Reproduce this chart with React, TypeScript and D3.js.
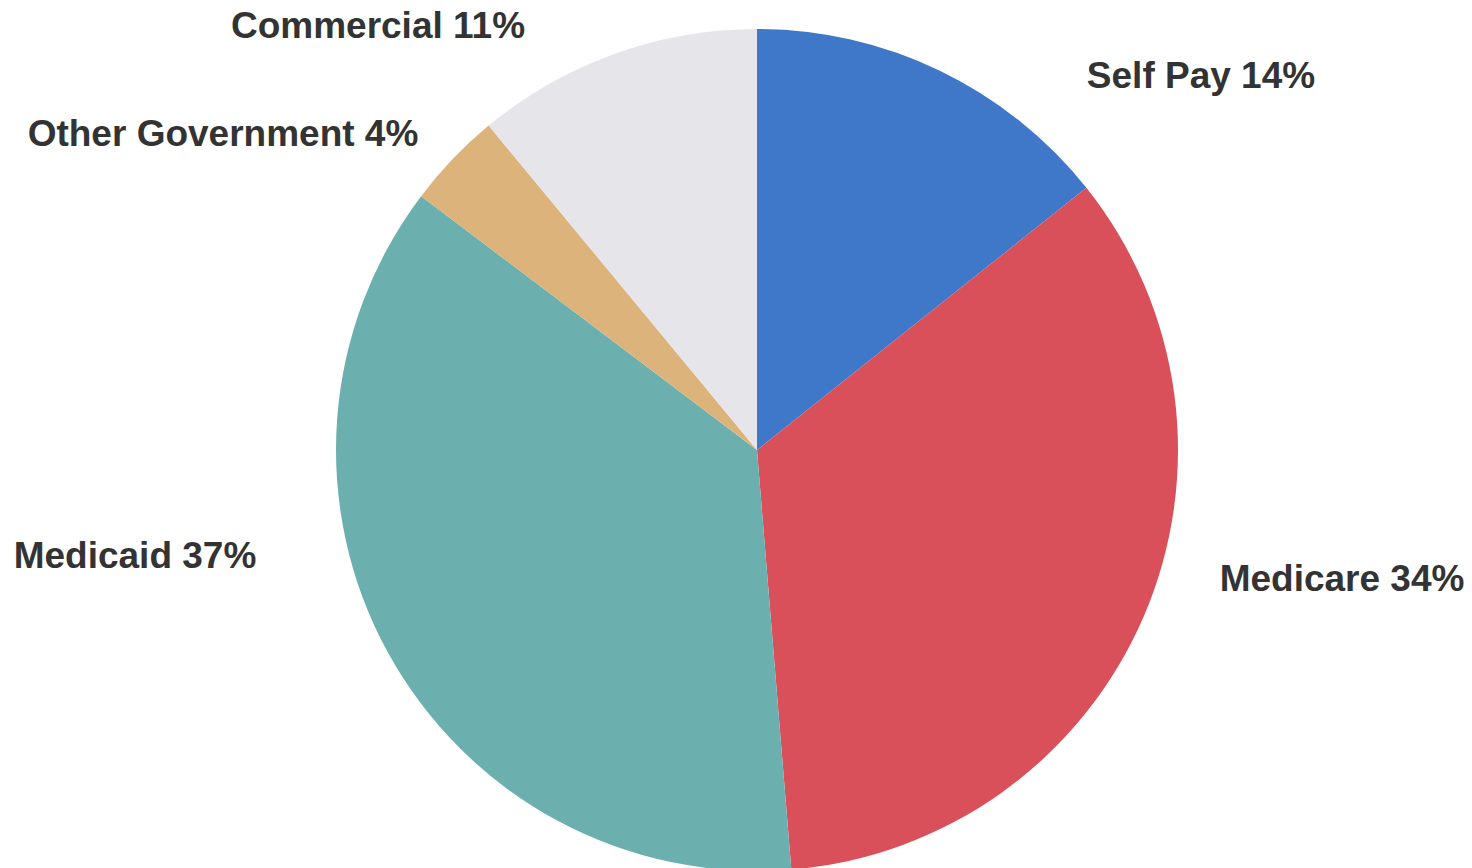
import { useMemo } from 'react';
import { pie, arc, PieArcDatum } from 'd3';

const categories = ['Self Pay', 'Medicare', 'Medicaid', 'Other Government', 'Commercial'];
// slice shares (angles), labels show the rounded percent
const shares = [14.3, 34.4, 36.6, 3.7, 11.0];
const percentLabels = ['14%', '34%', '37%', '4%', '11%'];
const colors = ['#3f78c8', '#d9505a', '#6bb0ae', '#ddb37c', '#e6e6ea'];

const WIDTH = 1472;
const HEIGHT = 868;
const CX = 757;
const CY = 450;
const RADIUS = 421;

// where each label sits (text centre x, baseline y)
const labelSpots: [number, number][] = [
  [1201, 88],
  [1342, 591],
  [135, 568],
  [223, 146],
  [378, 38],
];

type Slice = { name: string; value: number; label: string; color: string };

const App = () => {
  const slices: Slice[] = categories.map((name, i) => ({
    name,
    value: shares[i],
    label: percentLabels[i],
    color: colors[i],
  }));

  const arcs = useMemo(
    () =>
      pie<Slice>()
        .sort(null)
        .value((d) => d.value)
        .startAngle(0)
        .endAngle(2 * Math.PI)(slices),
    []
  );

  const arcGen = arc<PieArcDatum<Slice>>().innerRadius(0).outerRadius(RADIUS);

  return (
    <svg
      width={WIDTH}
      height={HEIGHT}
      style={{ position: 'absolute', left: 0, top: 0, background: '#fff' }}
    >
      <g transform={`translate(${CX},${CY})`}>
        {arcs.map((a) => (
          <path key={a.data.name} d={arcGen(a) || ''} fill={a.data.color} />
        ))}
      </g>
      {arcs.map((a, i) => (
        <text
          key={'l' + a.data.name}
          x={labelSpots[i][0]}
          y={labelSpots[i][1]}
          textAnchor="middle"
          fontFamily="'Liberation Sans', Arial, sans-serif"
          fontWeight="bold"
          fontSize={37}
          fill="#333"
        >
          {`${a.data.name} ${a.data.label}`}
        </text>
      ))}
    </svg>
  );
};

export default App;
